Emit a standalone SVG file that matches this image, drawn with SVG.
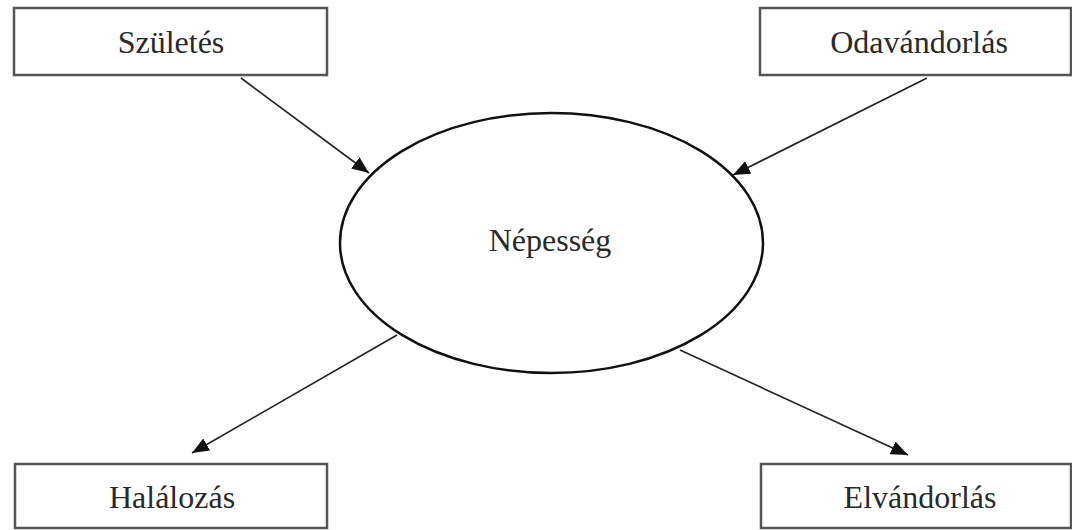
<svg xmlns="http://www.w3.org/2000/svg" width="1072" height="530" viewBox="0 0 1072 530">
  <style>
    .box { fill: #fff; stroke: #555; stroke-width: 2.5; }
    .ell { fill: #fff; stroke: #111; stroke-width: 2.5; }
    .lbl { font-family: "Liberation Serif", "Times New Roman", serif; font-size: 32px; fill: #2a2a2a; text-anchor: middle; }
    .conn { stroke: #222; stroke-width: 1.6; fill: none; marker-end: url(#arr); }
  </style>
  <defs>
    <marker id="arr" viewBox="0 0 17 14" refX="17" refY="7" markerWidth="17" markerHeight="14" markerUnits="userSpaceOnUse" orient="auto">
      <path d="M0,0 L17,7 L0,14 z" fill="#111"/>
    </marker>
  </defs>
  <rect width="1072" height="530" fill="#fff"/>
  <g id="szuletes">
    <rect class="box" x="14" y="8" width="313" height="67"/>
    <text class="lbl" x="171" y="53">Születés</text>
  </g>
  <g id="odavandorlas">
    <rect class="box" x="760" y="8" width="311" height="67"/>
    <text class="lbl" x="919" y="53">Odavándorlás</text>
  </g>
  <g id="halalozas">
    <rect class="box" x="15" y="464" width="312" height="64"/>
    <text class="lbl" x="172" y="508">Halálozás</text>
  </g>
  <g id="elvandorlas">
    <rect class="box" x="761" y="464" width="310" height="64"/>
    <text class="lbl" x="920" y="508">Elvándorlás</text>
  </g>
  <g id="nepesseg">
    <ellipse class="ell" cx="551.5" cy="243" rx="211.5" ry="130"/>
    <text class="lbl" x="550" y="251">Népesség</text>
  </g>
  <g id="connectors">
    <line class="conn" x1="241" y1="78" x2="369" y2="173"/>
    <line class="conn" x1="927" y1="78" x2="733" y2="175"/>
    <line class="conn" x1="397" y1="335" x2="192" y2="453"/>
    <line class="conn" x1="680" y1="350" x2="908" y2="455"/>
  </g>
</svg>
